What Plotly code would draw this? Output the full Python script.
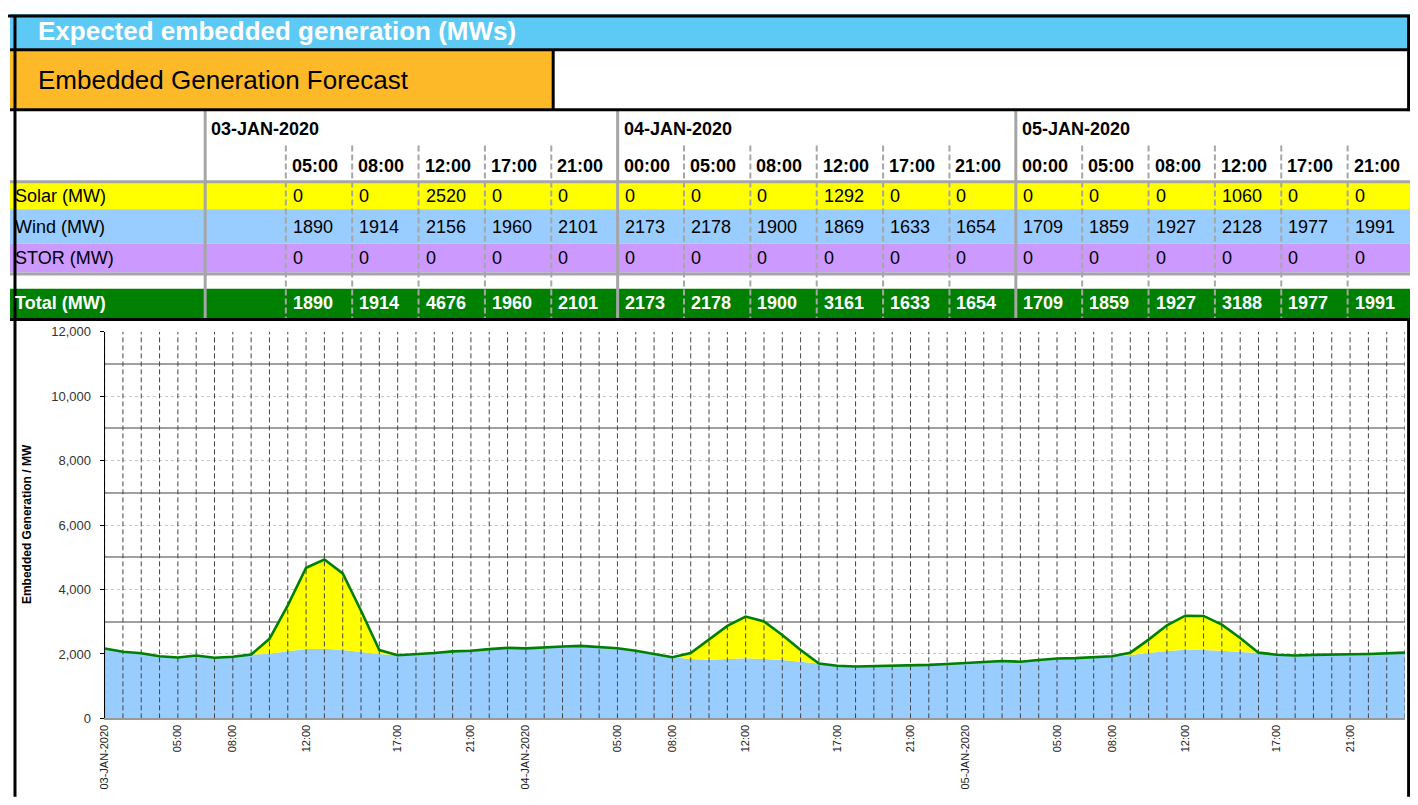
import plotly.graph_objects as go

# Page is 1418x805; the browser body keeps an 8px margin, so the figure is
# sized to fit inside it and all layout coordinates are given in page pixels.
PAGE_W, PAGE_H = 1418, 805
OFF = 8
W, H = PAGE_W - 2 * OFF, PAGE_H - 2 * OFF

# ---------------- data ----------------
header_title = "Expected embedded generation (MWs)"
panel_title = "Embedded Generation Forecast"

table_dates = ["03-JAN-2020", "04-JAN-2020", "05-JAN-2020"]
table_day_of_col = [0, 0, 0, 0, 0, 1, 1, 1, 1, 1, 1, 2, 2, 2, 2, 2, 2]
table_times = ["05:00", "08:00", "12:00", "17:00", "21:00",
               "00:00", "05:00", "08:00", "12:00", "17:00", "21:00",
               "00:00", "05:00", "08:00", "12:00", "17:00", "21:00"]
row_labels = ["Solar (MW)", "Wind (MW)", "STOR (MW)", "Total (MW)"]
table_solar = [0, 0, 2520, 0, 0, 0, 0, 0, 1292, 0, 0, 0, 0, 0, 1060, 0, 0]
table_wind = [1890, 1914, 2156, 1960, 2101, 2173, 2178, 1900, 1869, 1633, 1654,
              1709, 1859, 1927, 2128, 1977, 1991]
table_stor = [0, 0, 0, 0, 0, 0, 0, 0, 0, 0, 0, 0, 0, 0, 0, 0, 0]
table_total = [1890, 1914, 4676, 1960, 2101, 2173, 2178, 1900, 3161, 1633, 1654,
               1709, 1859, 1927, 3188, 1977, 1991]

# hourly chart series (72 periods)
wind_mw = [2170, 2070, 2020, 1930, 1890, 1950, 1880, 1914, 1980, 2010,
           2080, 2156, 2160, 2120, 2060, 2000, 1960, 1990, 2030, 2080,
           2101, 2150, 2190, 2173, 2210, 2230, 2250, 2210, 2178, 2100,
           1990, 1900, 1840, 1820, 1840, 1869, 1840, 1810, 1760, 1700,
           1633, 1610, 1620, 1650, 1654, 1660, 1690, 1709, 1750, 1780,
           1760, 1810, 1859, 1870, 1890, 1927, 1970, 2030, 2090, 2128,
           2120, 2100, 2060, 2040, 1977, 1950, 1970, 1990, 1991, 2000,
           2020, 2040]
solar_mw = [0, 0, 0, 0, 0, 0, 0, 0, 0, 460,
            1430, 2520, 2770, 2380, 1280, 120, 0, 0, 0, 0,
            0, 0, 0, 0, 0, 0, 0, 0, 0, 0,
            0, 0, 190, 625, 1030, 1292, 1170, 780, 360, 0,
            0, 0, 0, 0, 0, 0, 0, 0, 0, 0,
            0, 0, 0, 0, 0, 0, 70, 415, 800, 1060,
            1060, 810, 435, 0, 0, 0, 0, 0, 0, 0,
            0, 0]
stor_mw = [0] * 72
x_tick_labels = {0: "03-JAN-2020", 4: "05:00", 7: "08:00", 11: "12:00", 16: "17:00",
                 20: "21:00", 23: "04-JAN-2020", 28: "05:00", 31: "08:00", 35: "12:00",
                 40: "17:00", 44: "21:00", 47: "05-JAN-2020", 52: "05:00", 55: "08:00",
                 59: "12:00", 64: "17:00", 68: "21:00"}

# ---------------- styling ----------------
FONT = "Liberation Sans, Arial, Helvetica, sans-serif"
BLUE_HDR = "#5DCAF5"
ORANGE = "#FDB927"
SOLAR_C = "#FFFF00"
WIND_C = "#99CCFF"
STOR_C = "#CC99FF"
TOTAL_C = "#008000"
GREY = "#A6A6A6"


def px(x):
    return (x - OFF) / W


def py(y):
    return 1 - (y - OFF) / H


shapes = []
annotations = []


def rect(x0, y0, x1, y1, color):
    shapes.append(dict(type="rect", xref="paper", yref="paper",
                       x0=px(x0), x1=px(x1), y0=py(y1), y1=py(y0),
                       fillcolor=color, line=dict(width=0), layer="above"))


def line(x0, y0, x1, y1, color, width, dash="solid"):
    shapes.append(dict(type="line", xref="paper", yref="paper",
                       x0=px(x0), x1=px(x1), y0=py(y0), y1=py(y1),
                       line=dict(color=color, width=width, dash=dash), layer="above"))


def text(x, y, s, size=18, color="black", bold=False, anchor="left", angle=0):
    if bold:
        s = "<b>" + s + "</b>"
    annotations.append(dict(x=px(x), y=py(y), xref="paper", yref="paper", text=s,
                            showarrow=False, xanchor=anchor, yanchor="middle",
                            textangle=angle,
                            font=dict(family=FONT, size=size, color=color)))


L, R = 4, 1414

# header band
rect(L, 7, R, 42.5, BLUE_HDR)
text(30, 24.5, header_title, size=26, color="white", bold=True)
rect(L, 44.5, 549, 103.5, ORANGE)
text(30, 74, panel_title, size=26, color="black")

# table layout
LBL_R = 200
COL0 = 281.0
COLW = (R - COL0) / 17
col_x = [COL0 + j * COLW for j in range(17)]

ROW_SOLAR = (179, 206)
ROW_WIND = (206, 241)
ROW_STOR = (241, 270.5)
ROW_TOTAL = (287, 317)

rect(L, ROW_SOLAR[0], R, ROW_SOLAR[1], SOLAR_C)
rect(L, ROW_WIND[0], R, ROW_WIND[1], WIND_C)
rect(L, ROW_STOR[0], R, ROW_STOR[1], STOR_C)
rect(L, ROW_TOTAL[0], R, ROW_TOTAL[1], TOTAL_C)

# grey horizontal rules
line(L, 178, R, 178, GREY, 3)
line(L, 272, R, 272, GREY, 3)

# vertical separators
day_start_x = [LBL_R]
for j in range(1, 17):
    if table_day_of_col[j] != table_day_of_col[j - 1]:
        day_start_x.append(col_x[j])
for xs in day_start_x:
    line(xs, 105, xs, 317, GREY, 3)
for j in range(17):
    if col_x[j] in day_start_x:
        continue
    line(col_x[j], 141, col_x[j], 317, GREY, 2, dash="6px,3px")

# date headers
for d, name in enumerate(table_dates):
    text(day_start_x[d] + 4, 124.5, name, size=18, bold=True)
# time headers
for j, t in enumerate(table_times):
    text(col_x[j] + 4, 161.5, t, size=18, bold=True)

# row labels
text(7, 192.5, row_labels[0], size=18)
text(7, 224, row_labels[1], size=18)
text(7, 256, row_labels[2], size=18)
text(7, 302, row_labels[3], size=18, color="white", bold=True)

for j in range(17):
    xv = col_x[j] + 5
    text(xv, 192.5, str(table_solar[j]), size=18)
    text(xv, 224, str(table_wind[j]), size=18)
    text(xv, 256, str(table_stor[j]), size=18)
    text(xv, 302, str(table_total[j]), size=18, color="white", bold=True)

# black frame lines
line(1, 9, 1417, 9, "black", 3)
line(L, 43.5, R, 43.5, "black", 3)
line(549.5, 44, 549.5, 104, "black", 3)
line(L, 104.5, R, 104.5, "black", 3)
line(L, 318.5, R, 318.5, "black", 3)
line(9, 8, 9, PAGE_H, "black", 3)
# right frame: header block and chart block only (table rows run to the edge)
line(1408.6, 8, 1408.6, 106, "black", 3)
line(1408.6, 317, 1408.6, PAGE_H, "black", 3)

# y-axis title
text(21, 527, "Embedded Generation / MW", size=12, bold=True, anchor="center", angle=-90)

# ---------------- chart ----------------
x = list(range(len(wind_mw)))
total_mw = [w + s + t for w, s, t in zip(wind_mw, solar_mw, stor_mw)]

fig = go.Figure()
fig.add_trace(go.Scatter(x=x, y=wind_mw, stackgroup="gen", mode="none",
                         fillcolor=WIND_C, hoverinfo="skip", name="Wind"))
fig.add_trace(go.Scatter(x=x, y=solar_mw, stackgroup="gen", mode="none",
                         fillcolor=SOLAR_C, hoverinfo="skip", name="Solar"))
fig.add_trace(go.Scatter(x=x, y=stor_mw, stackgroup="gen", mode="none",
                         fillcolor=STOR_C, hoverinfo="skip", name="STOR"))

# vertical dashed period lines drawn over the areas
gx, gy = [], []
for i in x:
    gx += [i, i, None]
    gy += [0, 12000, None]
fig.add_trace(go.Scatter(x=gx, y=gy, mode="lines", hoverinfo="skip",
                         line=dict(color="#444444", width=1, dash="5px,3px")))

fig.add_trace(go.Scatter(x=x, y=total_mw, mode="lines", hoverinfo="skip",
                         line=dict(color=TOTAL_C, width=2.6), name="Total"))

fig.update_layout(
    width=W, height=H, autosize=False,
    margin=dict(l=0, r=0, t=0, b=0),
    paper_bgcolor="white", plot_bgcolor="white",
    showlegend=False, hovermode=False,
    shapes=shapes, annotations=annotations,
    font=dict(family=FONT),
    xaxis=dict(
        domain=[px(99), px(1405)], range=[0, len(x) - 1],
        tickmode="array", tickvals=list(x),
        ticktext=[x_tick_labels.get(i, "") for i in x],
        tickangle=-90, ticks="", showgrid=False, zeroline=False,
        showline=True, linecolor="#999999", linewidth=2,
        tickfont=dict(family=FONT, size=11, color="#222222"),
    ),
    yaxis=dict(
        domain=[py(725), py(331)], range=[0, 12000],
        tick0=0, dtick=2000, tickformat=",d",
        ticks="outside", ticklen=4, tickcolor="black",
        ticklabelstandoff=6,
        showline=True, linecolor="black", linewidth=1,
        showgrid=True, gridcolor="#C8C8C8", griddash="dot", gridwidth=1,
        zeroline=False,
        minor=dict(dtick=1000, tick0=0, showgrid=True, gridcolor="#A0A0A0",
                   griddash="solid", gridwidth=1.5, ticks=""),
        tickfont=dict(family=FONT, size=13, color="#333333"),
    ),
)

fig.write_html("out.html", config={"displayModeBar": False})
